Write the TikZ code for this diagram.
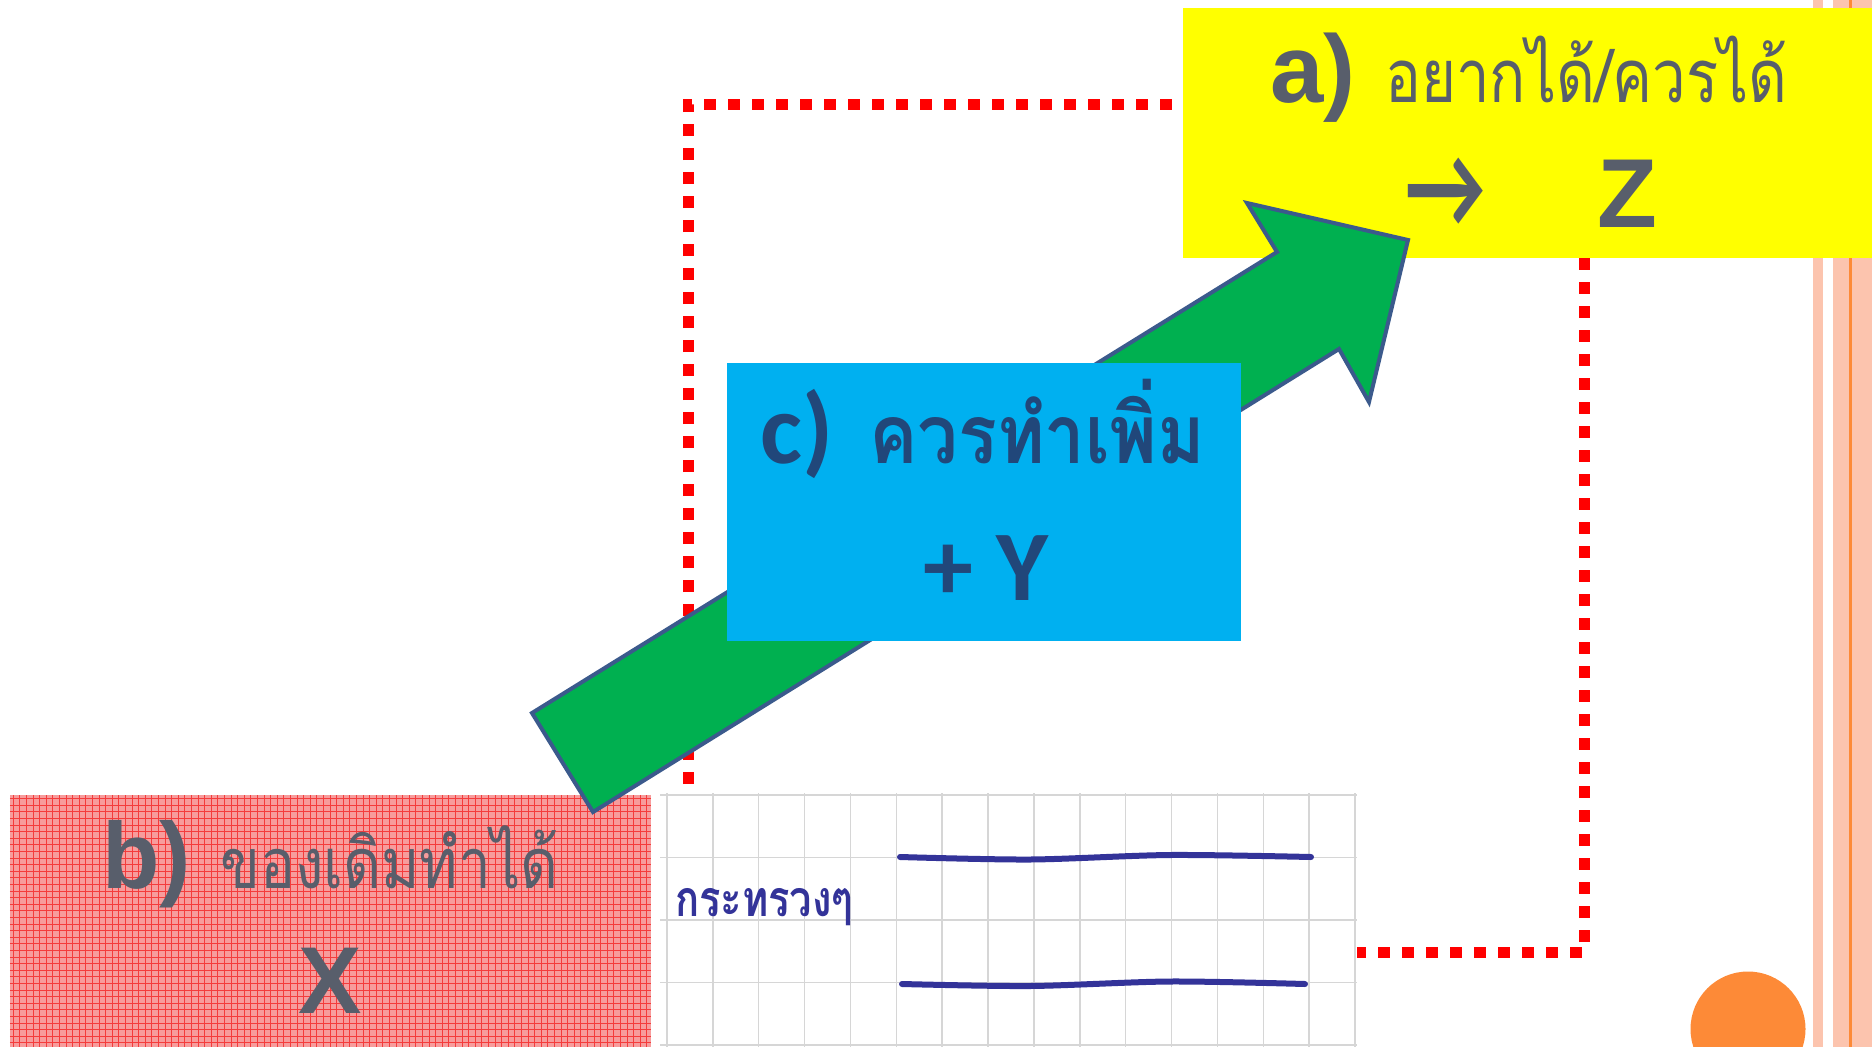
\documentclass[tikz,border=0pt]{standalone}
\usepackage{fontspec}
\usepackage{graphicx}
\setmainfont{Liberation Sans}
\newfontfamily\thaifont[Script=Thai]{Loma}
\newfontfamily\calfont{Carlito}
\usetikzlibrary{positioning,calc}
\definecolor{cyel}{HTML}{FFFF00}
\definecolor{cblue}{HTML}{00B0F0}
\definecolor{cgreen}{HTML}{00B050}
\definecolor{coutl}{HTML}{3B5A8C}
\definecolor{cgreytxt}{HTML}{585E6B}
\definecolor{cnavy}{HTML}{21477A}
\definecolor{cpen}{HTML}{333399}
\definecolor{cpink}{HTML}{F79C9C}
\definecolor{cgridred}{HTML}{F43C3C}
\definecolor{cdot}{HTML}{FF0000}
\definecolor{corange}{HTML}{FD8A37}
\definecolor{cpeach}{HTML}{FCC4AE}
\tikzset{
  panel/.style={rectangle, inner sep=0pt, draw=none},
  ybox/.style={panel, fill=cyel},
  cbox/.style={panel, fill=cblue},
  pbox/.style={panel, fill=cpink},
  sheet/.style={panel, fill=white},
  txt/.style={inner sep=0pt, anchor=base, text=cgreytxt},
  bluetxt/.style={txt, text=cnavy},
  rule/.style={draw=black!16, line width=1.5pt},
  reddots/.style={draw=cdot, line width=11pt, dash pattern=on 12pt off 12pt},
  pen/.style={draw=cpen, line width=6pt, line cap=round},
  bigarrow/.style={fill=cgreen, draw=coutl, line width=4pt, line join=miter},
  stripe/.style={fill=cpeach},
}
\newcommand{\fsz}[1]{\fontsize{#1}{#1}\selectfont}

\begin{document}
\begin{tikzpicture}[x=1pt,y=-1pt]
\useasboundingbox (0,0) rectangle (1872,1047);
% page edge stripes
\fill[stripe] (1813,0) rectangle (1823,1047);
\fill[stripe] (1833,0) rectangle (1872,1047);
\fill[corange] (1849,0) rectangle (1852,1047);

\node[ybox, minimum width=689pt, minimum height=250pt] (want) at (1527.5,133) {};
\coordinate (lt) at (688,104);
\coordinate (lb) at (688,784);
\coordinate (rb) at (1584,952);
\draw[reddots] (lb) -- (lt) -- ([xshift=-7pt]want.west |- lt);

\node[pbox, minimum width=641pt, minimum height=252pt] (have) at (330.5,921) {};
\begin{scope}
  \clip (have.north west) rectangle (have.south east);
  \draw[cgridred, line width=1pt, step=6.6pt] (have.north west) grid (have.south east);
\end{scope}

\node[sheet, minimum width=697pt, minimum height=252pt] (note) at (1008.5,921) {};
\foreach \gx in {0,...,15}
  \draw[rule] (667+45.87*\gx,793) -- (667+45.87*\gx,1047);
\foreach \gy in {795,857.5,920,982.5,1045}
  \draw[rule] (660,\gy) -- (1357,\gy);
\draw[pen] plot[smooth] coordinates {(900,857) (1030,859.5) (1170,855) (1311,857)};
\draw[pen] plot[smooth] coordinates {(902,984) (1030,986) (1170,981.5) (1305,984)};
\node[inner sep=0pt, anchor=base west, text=cpen] (memo) at (675,916)
  {\resizebox{178pt}{\height}{\thaifont\bfseries\fsz{50}กระทรวงๆ}};
\draw[reddots] (want.south -| rb) -- (rb) -- (note.east |- rb);

\draw[bigarrow] (532,713) -- (1277,252) -- (1247,203) -- (1408,240)
  -- (1369,402) -- (1339,349) -- (593,812) -- cycle;

\node[cbox, minimum width=514pt, minimum height=278pt] (more) at (984,502) {};
\node[bluetxt, anchor=base west] (clab) at (760,463) {\calfont\bfseries\fsz{100}c)};
\node[bluetxt, anchor=base west] (cword) at (869,463)
  {\resizebox{336pt}{\height}{\thaifont\bfseries\fsz{82}ควรทำเพิ่ม}};
\node[bluetxt] (cval) at (986,600) {\calfont\bfseries\fsz{100}+ Y};

\node[txt, anchor=base west] (alab) at (1270,102) {\bfseries\fsz{96}a)};
\node[txt, anchor=base west] (aword) at (1385,102)
  {\resizebox{402pt}{\height}{\thaifont\fsz{74}อยากได้/ควรได้}};
\node[txt] (aarr) at (1446,227)
  {\resizebox{80pt}{!}{\scalebox{1}[1.35]{\calfont\bfseries →}}};
\node[txt, anchor=base west] (aval) at (1597,227) {\bfseries\fsz{98}Z};

\node[txt, anchor=base west] (blab) at (102,888) {\bfseries\fsz{94}b)};
\node[txt, anchor=base west] (bword) at (220,888)
  {\resizebox{338pt}{\height}{\thaifont\fsz{70}ของเดิมทำได้}};
\node[txt] (bval) at (330,1013) {\bfseries\fsz{95}X};

\node[circle, fill=corange, minimum size=115pt, inner sep=0pt] (dot) at (1748,1029) {};
\end{tikzpicture}
\end{document}
